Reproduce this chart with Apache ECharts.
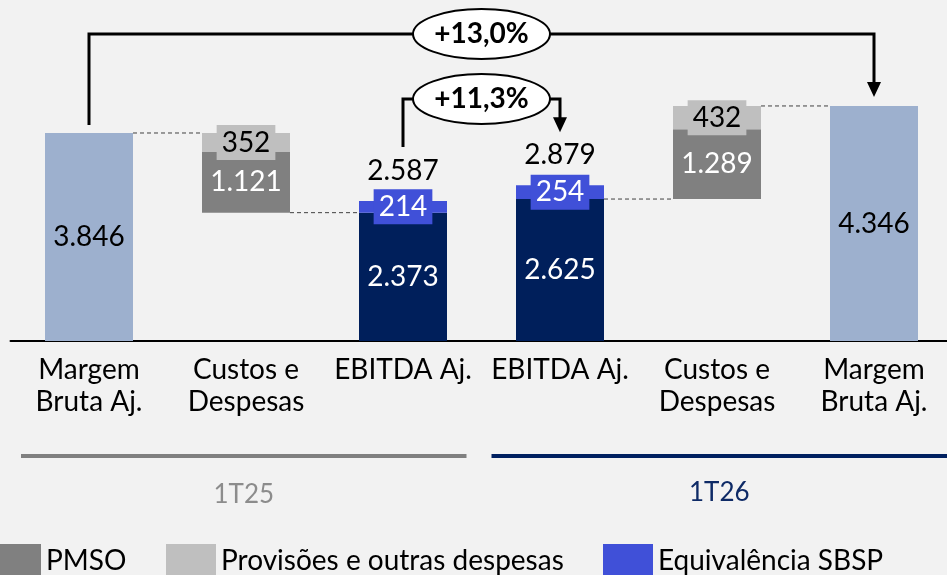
<!DOCTYPE html>
<html><head><meta charset="utf-8">
<script src="https://cdn.jsdelivr.net/npm/echarts@6/dist/echarts.min.js"></script>
<style>html,body{margin:0;padding:0;background:#F2F2F2}#c{width:947px;height:575px}</style>
</head><body><div id="c"></div>
<script>
const categories = ['Margem\nBruta Aj.', 'Custos e\nDespesas', 'EBITDA Aj.', 'EBITDA Aj.', 'Custos e\nDespesas', 'Margem\nBruta Aj.'];
const margem       = [3846, '-', '-', '-', '-', 4346];
const ebitda       = ['-', '-', 2373, 2625, '-', '-'];
const equivalencia = ['-', '-', 214, 254, '-', '-'];
const pmso         = ['-', 1121, '-', '-', 1289, '-'];
const provisoes    = ['-', 352, '-', '-', 432, '-'];
const periods = ['1T25', '1T26'];
const growthLabels = ['+13,0%', '+11,3%'];

const num = v => (typeof v === 'number') ? v : 0;
// invisible base of the floating cost bars = EBITDA (without equivalência) of the same period
const base = categories.map((c, i) => i === 1 ? ebitda[2] : (i === 4 ? ebitda[3] : '-'));
const totals = categories.map((c, i) => (typeof ebitda[i] === 'number') ? ebitda[i] + num(equivalencia[i]) : '-');
const fmt = v => String(v).replace(/\B(?=(\d{3})+(?!\d))/g, '.');

const FONT = 'Lato';
const FS = 28;
const C = { margem:'#9DB0CE', navy:'#001F5B', blue:'#4050D8', pmso:'#808080', prov:'#BFBFBF' };

const chart = echarts.init(document.getElementById('c'), null, {renderer:'canvas'});
const BW = 88;
const lbl = (color, extra) => Object.assign({show:true, position:'inside', color:color, fontFamily:FONT, fontSize:FS, formatter: p => fmt(p.value)}, extra || {});
const legendText = {fontFamily:FONT, fontSize:FS, color:'#000'};

const option = {
  backgroundColor:'#F2F2F2',
  animation:false,
  textStyle:{fontFamily:FONT},
  grid:{left:10.5, width:942, top:16.5, height:324.5, containLabel:false, outerBoundsMode:'none'},
  xAxis:{type:'category', data:categories,
    axisLine:{lineStyle:{color:'#000', width:2}}, axisTick:{show:false},
    axisLabel:{interval:0, color:'#000', fontFamily:FONT, fontSize:FS, lineHeight:32, margin:13}},
  yAxis:{type:'value', min:0, max:6000, show:false, splitLine:{show:false}},
  legend:[
    {left:-13, top:544, padding:0, itemWidth:54, itemHeight:34, icon:'rect', data:['PMSO'], textStyle:legendText},
    {left:166, top:544, padding:0, itemWidth:50, itemHeight:34, icon:'rect', data:['Provisões e outras despesas'], textStyle:legendText},
    {left:603, top:544, padding:0, itemWidth:50, itemHeight:34, icon:'rect', data:['Equivalência SBSP'], textStyle:legendText}
  ],
  series:[
    {name:'base', type:'bar', stack:'w', barWidth:BW, data:base, itemStyle:{color:'transparent'}, silent:true},
    {name:'Margem Bruta Aj.', type:'bar', stack:'w', barWidth:BW, data:margem, itemStyle:{color:C.margem}, label:lbl('#000')},
    {name:'EBITDA Aj.', type:'bar', stack:'w', barWidth:BW, data:ebitda, itemStyle:{color:C.navy}, label:lbl('#fff')},
    {name:'Equivalência SBSP', type:'bar', stack:'w', barWidth:BW, data:equivalencia, itemStyle:{color:C.blue},
      label:lbl('#fff', {backgroundColor:C.blue, padding:[2,5,1,5], lineHeight:32})},
    {name:'PMSO', type:'bar', stack:'w', barWidth:BW, data:pmso, itemStyle:{color:C.pmso}, label:lbl('#fff')},
    {name:'Provisões e outras despesas', type:'bar', stack:'w', barWidth:BW, data:provisoes, itemStyle:{color:C.prov},
      label:lbl('#000', {backgroundColor:C.prov, padding:[2,5,1,5], lineHeight:32})},
    {name:'Total', type:'scatter', data:totals, symbolSize:0, itemStyle:{opacity:1},
      label:{show:true, position:'inside', offset:[0,-30], color:'#000', opacity:1, fontFamily:FONT, fontSize:FS, formatter:p=>fmt(p.value)}}
  ]
};
chart.setOption(option);

function px(i, v){ return chart.convertToPixel({xAxisIndex:0, yAxisIndex:0}, [i, v]); }
const half = BW/2;
const g = [];
const dash = (x1,y,x2) => ({type:'line', shape:{x1:x1, y1:y, x2:x2, y2:y}, style:{stroke:'#404040', lineWidth:1, lineDash:[4,3]}, silent:true});
// connectors
const m0 = px(0, margem[0]), b1 = px(1, base[1]), e2 = px(2, ebitda[2]);
g.push(dash(m0[0]+half, m0[1], px(1,0)[0]-half));
g.push(dash(b1[0]+half, b1[1], e2[0]-half));
const e3 = px(3, ebitda[3]), b4 = px(4, base[4]), m5 = px(5, margem[5]);
g.push(dash(e3[0]+half, e3[1], b4[0]-half));
const top4 = px(4, base[4]+pmso[4]+provisoes[4]);
g.push(dash(top4[0]+half, top4[1], m5[0]-half));

// growth annotations
const LW = 3;
function bracket(xl, yStart, xr, yEnd, yLevel, text){
  const cx = (413+550)/2;
  g.push({type:'polyline', shape:{points:[[xl,yStart],[xl,yLevel],[cx-68,yLevel]]}, style:{stroke:'#000', lineWidth:LW, fill:null}, silent:true});
  g.push({type:'polyline', shape:{points:[[cx+68,yLevel],[xr,yLevel],[xr,yEnd-14]]}, style:{stroke:'#000', lineWidth:LW, fill:null}, silent:true});
  g.push({type:'polygon', shape:{points:[[xr-7,yEnd-15],[xr+7,yEnd-15],[xr,yEnd]]}, style:{fill:'#000'}, silent:true});
  g.push({type:'ellipse', shape:{cx:cx, cy:yLevel, rx:68.5, ry:25}, style:{fill:'#fff', stroke:'#000', lineWidth:2}, silent:true});
  g.push({type:'text', x:cx, y:yLevel, style:{text:text, fill:'#000', font:'bold 28px '+FONT, align:'center', verticalAlign:'middle'}, silent:true});
}
bracket(m0[0], m0[1]-8, m5[0], m5[1]-9, 34, growthLabels[0]);
const t2 = px(2, totals[2]), t3 = px(3, totals[3]);
bracket(t2[0], t2[1]-54, t3[0], t3[1]-53, 99, growthLabels[1]);

// period separators
const mid = (px(2,0)[0] + px(3,0)[0]) / 2;
g.push({type:'line', shape:{x1:21, y1:456, x2:mid-15, y2:456}, style:{stroke:'#808080', lineWidth:4}, silent:true});
g.push({type:'line', shape:{x1:mid+10, y1:456, x2:947, y2:456}, style:{stroke:'#002060', lineWidth:4}, silent:true});
g.push({type:'text', x:(21+mid-15)/2, y:495, style:{text:periods[0], fill:'#8C8C8C', font:'26px '+FONT, align:'center', verticalAlign:'middle'}, silent:true});
g.push({type:'text', x:(mid+10+947)/2, y:493, style:{text:periods[1], fill:'#0E2A66', font:'26px '+FONT, align:'center', verticalAlign:'middle'}, silent:true});

chart.setOption({graphic:{elements:g}});
</script></body></html>
